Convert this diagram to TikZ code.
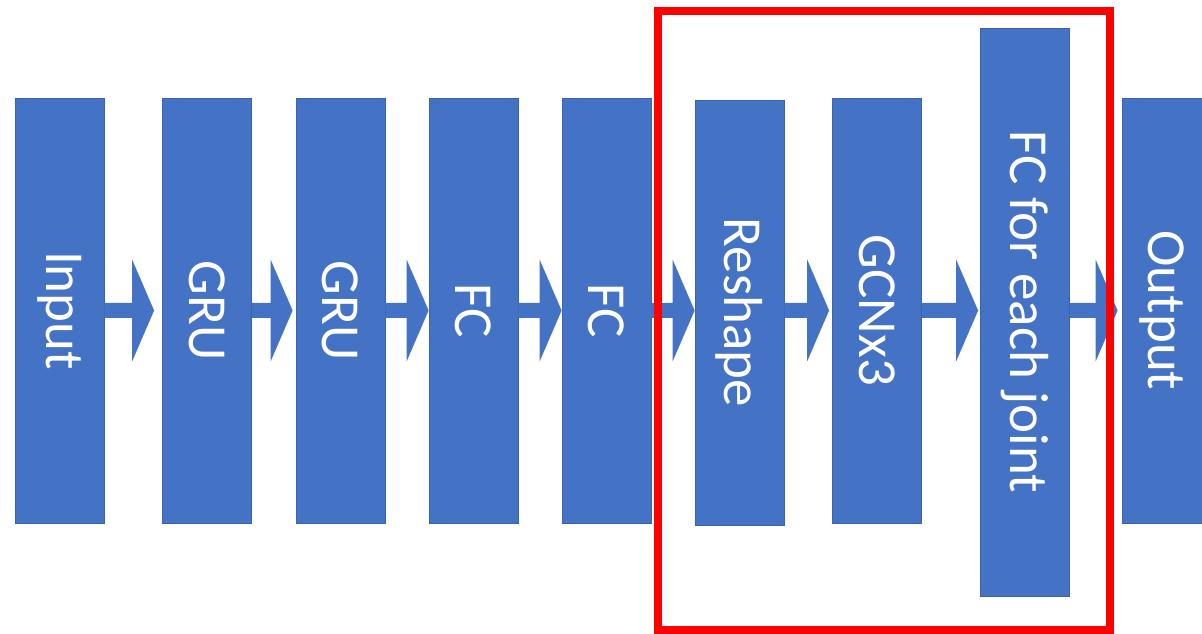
\documentclass[tikz,border=0pt]{standalone}
\usepackage{fontspec}
\setmainfont{Carlito}
\usetikzlibrary{calc}
\definecolor{boxblue}{HTML}{4472C4}
\definecolor{boxedge}{HTML}{3A62AE}
\definecolor{framered}{HTML}{FF0000}

% block arrow from the east side of #2 to the west side of #3,
% stopping #1 pt short of the target
\newcommand{\blockarrow}[3][0]{%
  \fill[arrowfill] let \p1=(#2.east), \p2=(#3.west) in
    (\x1,331pt) -- (\x2-#1pt-22pt,331pt) -- (\x2-#1pt-22pt,374.5pt)
    -- (\x2-#1pt,323.5pt) -- (\x2-#1pt-22pt,272.5pt)
    -- (\x2-#1pt-22pt,316pt) -- (\x1,316pt) -- cycle;}

\begin{document}
\begin{tikzpicture}[
  x=1pt, y=1pt,
  layer/.style={fill=boxblue, draw=boxedge, line width=0.8pt,
    minimum width=89pt, minimum height=425pt, inner sep=0pt},
  lbl/.style={text=white, rotate=-90, inner sep=0pt,
    font=\fontsize{55}{60}\selectfont},
  arrowfill/.style={fill=boxblue},
  frame/.style={draw=framered, line width=8pt}
]
\useasboundingbox (0,0) rectangle (1202,634);
\fill[white] (0,0) rectangle (1202,634);

% network layers
\node[layer] (in)  at (59.5,323.5) {};
\node[layer] (gru1) at (207,323.5) {};
\node[layer] (gru2) at (340.5,323.5) {};
\node[layer] (fc1) at (473.5,323.5) {};
\node[layer] (fc2) at (606.5,323.5) {};
\node[layer] (resh) at (739.5,321.5) {};
\node[layer] (gcn) at (877,323.5) {};
\node[layer, minimum height=568pt] (fcj) at (1025,322) {};
\node[layer] (out) at (1166.5,323.5) {};

% layer names
\node[lbl] (in-t)   at (in)   {Input};
\node[lbl] (gru1-t) at (gru1) {GRU};
\node[lbl] (gru2-t) at (gru2) {GRU};
\node[lbl] (fc1-t)  at (fc1)  {FC};
\node[lbl] (fc2-t)  at (fc2)  {FC};
\node[lbl] (resh-t) at (resh) {Reshape};
\node[lbl] (gcn-t)  at (gcn)  {GCNx3};
\node[lbl] (fcj-t)  at (fcj)  {FC for each joint};
\node[lbl] (out-t)  at ($(out)+(-5,0)$) {Output};

% data flow
\blockarrow[8]{in}{gru1}
\blockarrow[3]{gru1}{gru2}
\blockarrow{gru2}{fc1}
\blockarrow{fc1}{fc2}
\blockarrow{fc2}{resh}
\blockarrow[3]{resh}{gcn}
\blockarrow[2]{gcn}{fcj}
\blockarrow[4]{fcj}{out}

% highlighted graph part
\draw[frame] (658,4) rectangle (1110,623);
\end{tikzpicture}
\end{document}
